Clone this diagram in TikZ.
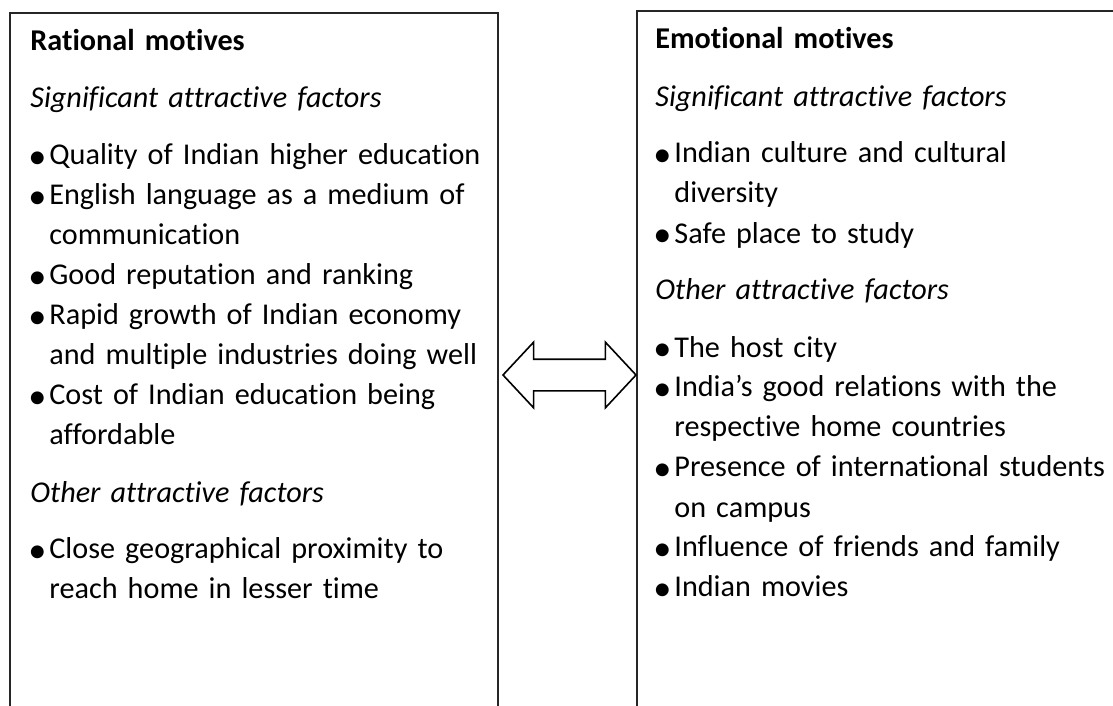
\documentclass[tikz,border=0pt]{standalone}
\usepackage{graphicx}
\usepackage{fontspec}
\setmainfont{Carlito}[Ligatures=NoCommon]
\usetikzlibrary{shapes.arrows}

\newlength\factorindent
\setlength\factorindent{9.5pt}
\newlength\factorgapskip
\setlength\factorgapskip{8.5pt}
% bullet item, wrapped lines hang under the text
\newcommand\factordot{\raisebox{-1.6pt}{\scalebox{1.2}{\textbullet}}}
\newcommand\factor[1]{\hangindent=\factorindent\hangafter=1\noindent
  \makebox[\factorindent][l]{\hspace{-1pt}\factordot}#1\par}
\newcommand\motivehead[1]{\noindent\textbf{#1}\par\vspace{\factorgapskip}}
\newcommand\factorhead[1]{\noindent\textit{#1}\par\vspace{\factorgapskip}}
\newcommand\factorgap{\vspace{\factorgapskip}}

\begin{document}
\begin{tikzpicture}[
    x=0.5pt, y=-0.5pt,
    framebox/.style={draw=black!85, line width=0.8pt, inner sep=0pt, anchor=north west},
    motives/.style={anchor=base west, inner sep=0pt, text width=240pt, align=left,
      font=\fontsize{15.1pt}{20pt}\selectfont},
    twoway/.style={draw=black, line width=0.8pt, double arrow, inner xsep=0pt,
      inner ysep=7.5pt, minimum height=66.5pt, double arrow head extend=8.5pt,
      double arrow tip angle=94}]

    \useasboundingbox (0,0) rectangle (1113,706);
    \clip (0,0) rectangle (1113,706);

    \node[framebox, minimum width=244pt, minimum height=360pt] (rationalbox) at (9,12) {};
    \node[framebox, minimum width=250pt, minimum height=360pt] (emotionalbox) at (636,10) {};

    \node[motives] (rational) at (30,51) {%
        \motivehead{Rational motives}
        \factorhead{Significant attractive factors}
        \factor{Quality of Indian higher education}
        \factor{English language as a medium of\newline communication}
        \factor{Good reputation and ranking}
        \factor{Rapid growth of Indian economy\newline and multiple industries doing well}
        \factor{Cost of Indian education being\newline affordable}
        \factorgap
        \factorhead{Other attractive factors}
        \factor{Close geographical proximity to\newline reach home in lesser time}};

    \node[motives] (emotional) at (655,49) {%
        \motivehead{Emotional motives}
        \factorhead{Significant attractive factors}
        \factor{Indian culture and cultural\newline diversity}
        \factor{Safe place to study}
        \factorgap
        \factorhead{Other attractive factors}
        \factor{The host city}
        \factor{India’s good relations with the\newline respective home countries}
        \factor{Presence of international students\newline on campus}
        \factor{Influence of friends and family}
        \factor{Indian movies}};

    \node[twoway] (link) at (569.5,375) {};

\end{tikzpicture}
\end{document}
